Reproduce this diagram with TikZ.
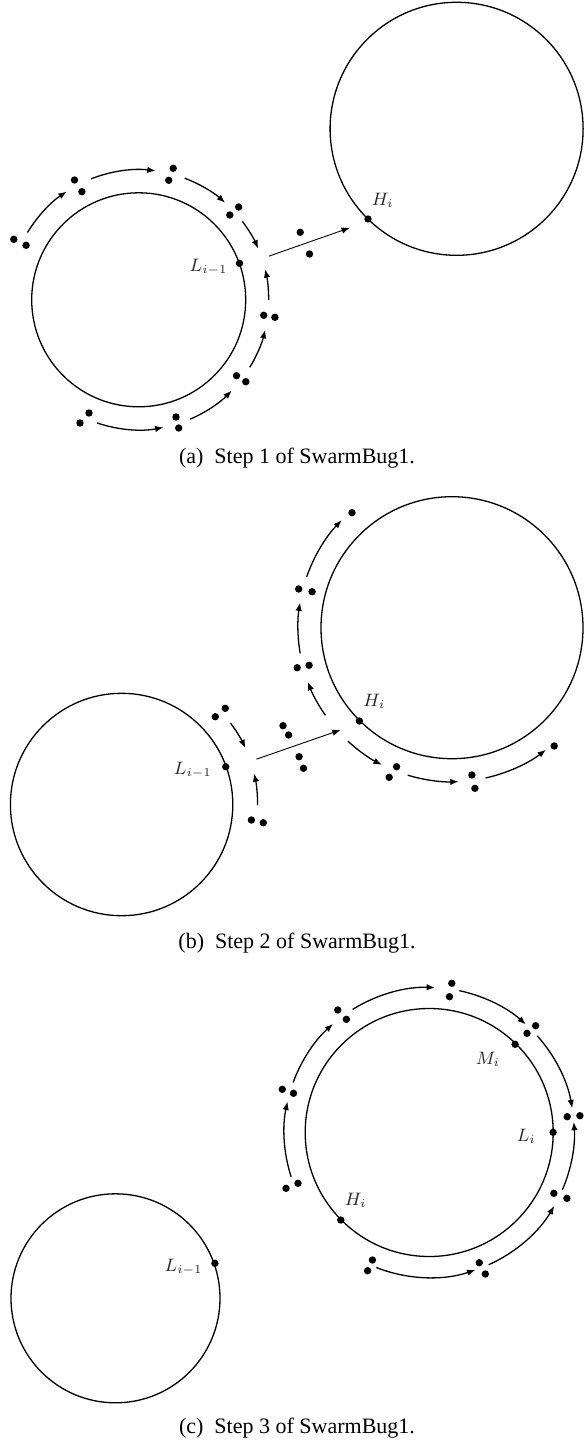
\documentclass[tikz,border=0pt]{standalone}
\usepackage{fontspec}
\usepackage{amsmath}
\usepackage{tikz}
\usetikzlibrary{arrows.meta,calc}
\newfontfamily\capfont{Liberation Serif}

\begin{document}
\begin{tikzpicture}[x=0.5pt,y=-0.5pt,>={Latex[length=4.2pt,width=3.2pt]},line width=0.65pt,
    obstacle/.style={circle,draw,inner sep=0pt,outer sep=0pt},
    bot/.style={circle,fill,inner sep=0pt,minimum size=3.7pt},
    flow/.style={->},
    lbl/.style={font=\fontsize{9}{10}\selectfont,text=black!85},
    subcap/.style={font=\fontsize{11}{13}\capfont}]
  \useasboundingbox (0,0) rectangle (584,1450);

  % (a) step 1
  \node[obstacle,minimum size=107pt] (oa1) at (138.7,299.8) {};
  \node[obstacle,minimum size=126.5pt] (oa2) at (456.6,128.8) {};
  \node[bot] (La) at (239.5,263.3) {};
  \node[bot] (Ha) at (368,219) {};
  \node[lbl] (La-l) at (208.6,266.7) {$L_{i-1}$};
  \node[lbl] (Ha-l) at (382.7,200) {$H_i$};
  \foreach \p [count=\i] in {(13.8,239.3),(26.1,245.3),(74.5,180),(81.9,191.7),
      (173.2,168.3),(168.7,180.3),(229.8,215),(238.7,207),(300.2,232.3),(309.5,254),
      (263.7,315.3),(274.9,317.3),(236.5,375.7),(245.8,381.7),(80,423),(89,413),
      (176,417),(178.7,428)}
    \node[bot] (ra\i) at \p {};
  \foreach \s/\e in {211.2/236.4,248.5/277.5,290.7/311.7,322.8/336.8,
      0.1/-13.6,31.3/13.4,66.7/44.3,108.7/79}
    \draw[flow] ([shift={(\s:130)}]oa1.center) arc[start angle=\s,end angle=\e,radius=130];
  \draw[->,line width=0.45pt] ($(La)!0.23!(Ha)+(0,3)$) -- ($(La)!0.86!(Ha)+(0,2.5)$);
  \node[subcap] (capa) at (297,458) {(a)\enspace Step 1 of SwarmBug1.};

  % (b) step 2
  \node[obstacle,minimum size=111.2pt] (ob1) at (121.6,804.5) {};
  \node[obstacle,minimum size=131pt] (ob2) at (452,627.7) {};
  \node[bot] (Lb) at (225.7,766.7) {};
  \node[bot] (Hb) at (359.4,721) {};
  \node[lbl] (Lb-l) at (192.9,770) {$L_{i-1}$};
  \node[lbl] (Hb-l) at (374.3,701) {$H_i$};
  \foreach \p [count=\i] in {(215.3,716.7),(225.3,708.3),(283,725.7),(288.6,735),
      (299.1,756.7),(303.5,768.3),(251.4,820),(263.3,822.7),(297.2,667.7),(309.1,665.3),
      (298.7,589),(312.1,591.7),(352,512.7),(396.6,766.7),(389.2,777.3),(471.9,775),
      (474.9,788.3),(554.2,746)}
    \node[bot] (rb\i) at \p {};
  \foreach \s/\e in {-36.8/-24.5,0.2/-13.2}
    \draw[flow] ([shift={(\s:136)}]ob1.center) arc[start angle=\s,end angle=\e,radius=136];
  \foreach \s/\e in {145.3/159.4,170.4/189.4,199.3/224.3,132.5/117.1,106.7/87.5,77.4/52.4}
    \draw[flow] ([shift={(\s:154)}]ob2.center) arc[start angle=\s,end angle=\e,radius=154];
  \draw[->,line width=0.45pt] ($(Lb)!0.23!(Hb)+(0,3)$) -- ($(Lb)!0.86!(Hb)+(0,2.5)$);
  \node[subcap] (capb) at (297,943) {(b)\enspace Step 2 of SwarmBug1.};

  % (c) step 3
  \node[obstacle,minimum size=104.5pt] (oc1) at (115.5,1298.3) {};
  \node[obstacle,minimum size=124pt] (oc2) at (429.2,1132.5) {};
  \node[bot] (Lc0) at (214.9,1263.3) {};
  \node[bot] (Mc) at (515.1,1044.3) {};
  \node[bot] (Lc) at (553.1,1132.3) {};
  \node[bot] (Hc) at (340.8,1220) {};
  \node[lbl] (Lc0-l) at (183.6,1266.7) {$L_{i-1}$};
  \node[lbl] (Mc-l) at (487.9,1059.3) {$M_i$};
  \node[lbl] (Lc-l) at (526.3,1136.7) {$L_i$};
  \node[lbl] (Hc-l) at (355.7,1200) {$H_i$};
  \foreach \p [count=\i] in {(451.8,983.3),(449.5,996.7),(337.8,1010),(346.4,1019.3),
      (527,1033.3),(535.6,1025.7),(282.3,1089.3),(293.5,1093.3),(567.2,1116.7),
      (579.9,1115.7),(286,1188.3),(298,1183.3),(553.8,1193.3),(566.9,1198.3),
      (372.4,1260),(367.6,1270.7),(479.3,1262.7),(485.3,1274)}
    \node[bot] (rc\i) at \p {};
  \foreach \s/\e in {162.2/192.3,200.2/228.5,238.1/272.3,282/311.8,318.2/350.4,
      23.3/-4.2,65.8/30.4,111.4/71.4}
    \draw[flow] ([shift={(\s:145)}]oc2.center) arc[start angle=\s,end angle=\e,radius=145];
  \node[subcap] (capc) at (297,1428) {(c)\enspace Step 3 of SwarmBug1.};
\end{tikzpicture}
\end{document}
